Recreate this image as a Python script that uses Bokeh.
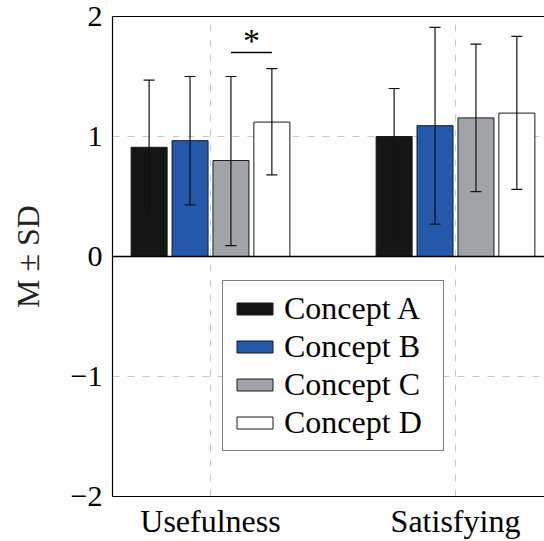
from bokeh.plotting import figure
from bokeh.models import (ColumnDataSource, FixedTicker, LinearAxis, Range1d, Span,
                          Whisker, TeeHead, Legend, LegendItem)
from bokeh.core.properties import value
from bokeh.embed import file_html
from bokeh.resources import INLINE

# ---- data ----
categories = ["Usefulness", "Satisfying"]
series = ["Concept A", "Concept B", "Concept C", "Concept D"]

mean_a = [0.91, 1.00]
low_a = [0.35, 0.14]
high_a = [1.47, 1.40]

mean_b = [0.965, 1.09]
low_b = [0.43, 0.27]
high_b = [1.50, 1.91]

mean_c = [0.80, 1.155]
low_c = [0.09, 0.54]
high_c = [1.50, 1.77]

mean_d = [1.12, 1.195]
low_d = [0.68, 0.56]
high_d = [1.565, 1.835]

means = [mean_a, mean_b, mean_c, mean_d]
lows = [low_a, low_b, low_c, low_d]
highs = [high_a, high_b, high_c, high_d]

y_ticks = [-2, -1, 0, 1, 2]
y_tick_labels = ["\u22122", "\u22121", "0", "1", "2"]

sig_category = 0          # Usefulness
sig_pair = (2, 3)         # Concept C vs Concept D
sig_y = 1.70
sig_star_y = 1.80
sig_label = "*"

# ---- style ----
colors = ["#151515", "#2458ab", "#a0a3a7", "#ffffff"]
FONT = "Liberation Serif"
FS = "32px"
step = 0.167
bar_w = 0.147
offsets = [(i - 1.5) * step for i in range(len(series))]

p = figure(width=544, height=541,
           x_range=Range1d(-0.4, 1.3633), y_range=Range1d(-2, 2),
           output_backend="svg", toolbar_location=None,
           min_border_left=112, min_border_right=0,
           min_border_top=16, min_border_bottom=45)
p.outline_line_color = None
p.background_fill_color = "white"
p.border_fill_color = "white"

# axes
cat_pos = list(range(len(categories)))
p.xaxis.ticker = FixedTicker(ticks=cat_pos)
p.xaxis.major_label_overrides = {c: lab for c, lab in zip(cat_pos, categories)}
p.yaxis.ticker = FixedTicker(ticks=y_ticks)
p.yaxis.major_label_overrides = {t: lab for t, lab in zip(y_ticks, y_tick_labels)}
p.yaxis.axis_label = "M \u00b1 SD"
for ax in (p.xaxis, p.yaxis):
    ax.major_tick_out = 0
    ax.major_tick_in = 0
    ax.minor_tick_out = 0
    ax.minor_tick_in = 0
    ax.axis_line_color = "black"
    ax.axis_line_width = 1.2
    ax.major_label_text_font = FONT
    ax.major_label_text_color = "black"
p.xaxis.major_label_text_font_size = FS
p.yaxis.major_label_text_font_size = "30px"
p.xaxis.major_label_standoff = 6
p.yaxis.major_label_standoff = 10
p.yaxis.axis_label_text_font = FONT
p.yaxis.axis_label_text_font_size = FS
p.yaxis.axis_label_text_font_style = "normal"
p.yaxis.axis_label_text_color = "#222222"
p.yaxis.axis_label_standoff = 22

top_axis = LinearAxis(ticker=FixedTicker(ticks=[]), major_tick_out=0, major_tick_in=0,
                      minor_tick_out=0, minor_tick_in=0, major_label_standoff=0,
                      axis_line_color="black", axis_line_width=1.2)
p.add_layout(top_axis, "above")

# grid
p.xgrid.ticker = FixedTicker(ticks=cat_pos)
p.ygrid.ticker = FixedTicker(ticks=[t for t in y_ticks if t not in (0, -2, 2)])
for g in (p.xgrid, p.ygrid):
    g.grid_line_color = "#c8c8c8"
    g.grid_line_dash = "7 8"
    g.grid_line_width = 1

p.add_layout(Span(location=0, dimension="width", line_color="black", line_width=1.3))

items = []
for i, name in enumerate(series):
    src = ColumnDataSource(dict(
        x=[c + offsets[i] for c in cat_pos],
        top=means[i], lo=lows[i], hi=highs[i]))
    r = p.vbar(x="x", top="top", bottom=0, width=bar_w, source=src,
               fill_color=colors[i], line_color="#1a1a1a", line_width=1)
    w = Whisker(base="x", lower="lo", upper="hi", source=src,
                line_color="#111111", line_width=1.2, level="overlay",
                upper_head=TeeHead(size=11, line_color="#111111", line_width=1.2),
                lower_head=TeeHead(size=11, line_color="#111111", line_width=1.2))
    p.add_layout(w)
    items.append(LegendItem(label=name, renderers=[r]))

# significance marker
sx0 = sig_category + offsets[sig_pair[0]]
sx1 = sig_category + offsets[sig_pair[1]]
p.segment(x0=[sx0], x1=[sx1], y0=[sig_y], y1=[sig_y], line_color="black", line_width=1.5)
p.text(x=[(sx0 + sx1) / 2], y=[sig_star_y], text=[sig_label], text_font=value(FONT),
       text_font_size="34px", text_align="center", text_baseline="middle",
       text_color="black")

legend = Legend(items=items, location=(110, 45),
                glyph_width=45, glyph_height=15,
                label_text_font=FONT, label_text_font_size=FS,
                label_text_color="black", label_standoff=7, label_width=150,
                spacing=1, padding=9, margin=0,
                border_line_color="black", border_line_width=1,
                background_fill_color="white", background_fill_alpha=1)
p.add_layout(legend)

open("out.html", "w").write(file_html(p, INLINE))
